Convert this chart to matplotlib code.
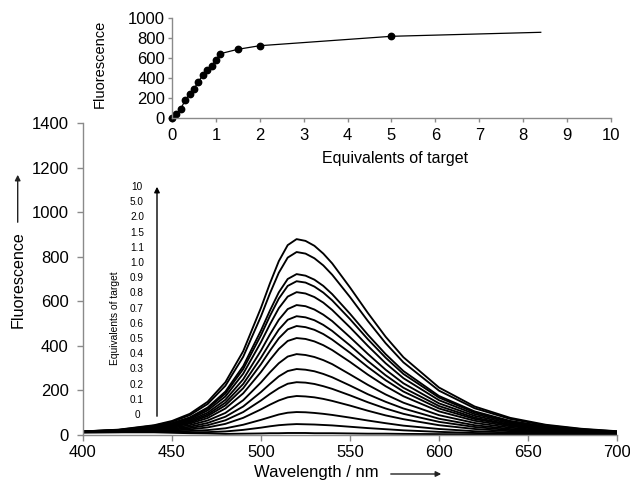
import matplotlib
matplotlib.use('Agg')
import matplotlib.pyplot as plt

# ---------------- data ----------------
wavelength = [400, 420, 440, 450, 460, 470, 480, 490, 500, 505, 510, 515, 520, 525,
              530, 535, 540, 550, 560, 570, 580, 600, 620, 640, 660, 680, 700]

spec_eq_0 = [12, 12, 12, 10, 8, 7, 5, 6, 7, 8, 8, 9, 9, 9, 8, 8, 8, 7, 6, 6, 5, 4, 3, 3, 3, 2, 2]
spec_eq_01 = [12, 13, 14, 13, 12, 13, 16, 23, 33, 39, 44, 47, 49, 48, 47, 45, 43, 37, 31, 26, 21, 14, 9, 6, 5, 4, 3]
spec_eq_02 = [12, 13, 16, 16, 18, 22, 30, 46, 68, 80, 92, 100, 103, 102, 99, 95, 90, 78, 65, 53, 42, 27, 17, 11, 7, 5, 4]
spec_eq_03 = [13, 14, 18, 20, 25, 34, 50, 77, 115, 136, 155, 169, 175, 173, 169, 162, 153, 132, 109, 88, 71, 44, 27, 17, 11, 7, 5]
spec_eq_04 = [13, 15, 21, 24, 31, 44, 66, 103, 155, 184, 210, 230, 237, 235, 229, 219, 207, 178, 147, 119, 95, 59, 36, 22, 14, 9, 6]
spec_eq_05 = [13, 16, 23, 28, 37, 54, 82, 128, 193, 229, 263, 287, 296, 293, 286, 274, 259, 222, 183, 149, 119, 73, 44, 27, 17, 11, 7]
spec_eq_06 = [14, 17, 25, 32, 44, 65, 99, 156, 236, 281, 322, 352, 363, 359, 350, 336, 318, 272, 225, 182, 145, 89, 54, 33, 20, 13, 8]
spec_eq_07 = [14, 18, 28, 36, 51, 76, 119, 187, 283, 337, 386, 422, 435, 431, 420, 403, 381, 328, 271, 219, 174, 106, 64, 39, 24, 15, 10]
spec_eq_08 = [14, 19, 30, 39, 56, 85, 133, 210, 318, 378, 434, 474, 489, 484, 472, 453, 428, 369, 305, 246, 195, 119, 72, 44, 27, 17, 11]
spec_eq_09 = [15, 19, 31, 42, 61, 92, 145, 229, 347, 412, 473, 517, 533, 528, 515, 494, 467, 402, 332, 268, 212, 130, 78, 47, 29, 18, 11]
spec_eq_10 = [15, 20, 33, 45, 66, 100, 158, 250, 379, 451, 517, 565, 583, 578, 563, 540, 511, 439, 364, 293, 232, 142, 86, 52, 31, 19, 12]
spec_eq_11 = [15, 21, 35, 48, 71, 110, 173, 275, 417, 496, 569, 621, 641, 635, 619, 594, 561, 483, 400, 322, 255, 156, 94, 57, 34, 21, 13]
spec_eq_15 = [15, 21, 37, 51, 76, 118, 186, 296, 448, 534, 612, 669, 690, 684, 666, 639, 604, 520, 430, 347, 274, 168, 101, 61, 37, 23, 14]
spec_eq_20 = [16, 22, 38, 53, 79, 123, 195, 309, 469, 558, 640, 700, 722, 715, 697, 669, 632, 544, 450, 363, 287, 175, 106, 63, 38, 23, 15]
spec_eq_50 = [16, 23, 42, 59, 89, 139, 221, 351, 533, 635, 728, 796, 821, 814, 793, 761, 719, 619, 512, 412, 326, 199, 120, 72, 43, 26, 16]
spec_eq_100 = [16, 24, 44, 63, 95, 149, 237, 376, 571, 680, 780, 852, 879, 871, 849, 814, 770, 662, 548, 441, 349, 213, 128, 77, 46, 28, 17]

spectra = [spec_eq_0, spec_eq_01, spec_eq_02, spec_eq_03, spec_eq_04, spec_eq_05,
           spec_eq_06, spec_eq_07, spec_eq_08, spec_eq_09, spec_eq_10, spec_eq_11,
           spec_eq_15, spec_eq_20, spec_eq_50, spec_eq_100]

eq_labels = ['0', '0.1', '0.2', '0.3', '0.4', '0.5', '0.6', '0.7', '0.8', '0.9',
             '1.0', '1.1', '1.5', '2.0', '5.0', '10']

main_xticks = [400, 450, 500, 550, 600, 650, 700]
main_yticks = [0, 200, 400, 600, 800, 1000, 1200, 1400]

# inset titration curve
titr_x = [0, 0.1, 0.2, 0.3, 0.4, 0.5, 0.6, 0.7, 0.8, 0.9, 1.0, 1.1, 1.5, 2, 5]
titr_y = [3, 40, 93, 177, 240, 293, 360, 430, 477, 523, 577, 643, 687, 723, 817]
line_x = [0, 0.1, 0.2, 0.3, 0.4, 0.5, 0.6, 0.7, 0.8, 0.9, 1.0, 1.1, 1.5, 2, 5, 8.4]
line_y = [3, 40, 93, 177, 240, 293, 360, 430, 477, 523, 577, 643, 687, 723, 817, 857]
inset_xticks = [0, 1, 2, 3, 4, 5, 6, 7, 8, 9, 10]
inset_yticks = [0, 200, 400, 600, 800, 1000]

# ---------------- figure ----------------
W, H = 630, 486
plt.rcParams['font.family'] = ['Liberation Sans', 'DejaVu Sans']
fig = plt.figure(figsize=(W / 100, H / 100), dpi=100)


def fp(x, y):
    return (x / W, 1 - y / H)


GREY = '#8a8a8a'

# main axes
ax = fig.add_axes([83 / W, 1 - 435 / H, (617 - 83) / W, (435 - 123) / H])
for spec in spectra:
    ax.plot(wavelength, spec, color='black', lw=1.35, solid_joinstyle='round')
ax.set_xlim(400, 700)
ax.set_ylim(0, 1400)
ax.set_xticks(main_xticks)
ax.set_yticks(main_yticks)
for s in ['top', 'right']:
    ax.spines[s].set_visible(False)
for s in ['left', 'bottom']:
    ax.spines[s].set_color(GREY)
    ax.spines[s].set_linewidth(1.0)
ax.tick_params(axis='both', direction='out', length=4.3, width=1.0, color=GREY,
               labelsize=12)
ax.tick_params(axis='y', pad=6)
ax.tick_params(axis='x', pad=3)

# main axis labels with arrows
fig.text(*fp(18.5, 280), 'Fluorescence', rotation=90, ha='center', va='center',
         fontsize=11.6)
fig.add_artist(matplotlib.patches.FancyArrowPatch(
    fp(17.7, 225), fp(17.7, 172), transform=fig.transFigure,
    arrowstyle='-|>', mutation_scale=8, color='#222222', lw=1.0))
fig.text(*fp(316, 472), 'Wavelength / nm', ha='center', va='center', fontsize=12)
fig.add_artist(matplotlib.patches.FancyArrowPatch(
    fp(388, 474), fp(444, 474), transform=fig.transFigure,
    arrowstyle='-|>', mutation_scale=8, color='#222222', lw=1.0))

# equivalents legend inside the main plot
fig.text(*fp(115, 318), 'Equivalents of target', rotation=90, ha='center',
         va='center', fontsize=7.4)
for i, lab in enumerate(eq_labels):
    fig.text(*fp(137, 415 - i * 15.2), lab, ha='center', va='center', fontsize=7.2)
fig.add_artist(matplotlib.patches.FancyArrowPatch(
    fp(157, 419), fp(157, 184), transform=fig.transFigure,
    arrowstyle='-|>', mutation_scale=8, color='black', lw=1.0))

# inset axes
ax2 = fig.add_axes([172 / W, 1 - 118 / H, (611 - 172) / W, 100 / H])
ax2.plot(line_x, line_y, color='black', lw=0.9)
ax2.plot(titr_x, titr_y, linestyle='none', marker='o', ms=4.6, color='black',
         clip_on=False)
ax2.set_xlim(0, 10)
ax2.set_ylim(0, 1000)
ax2.set_xticks(inset_xticks)
ax2.set_yticks(inset_yticks)
for s in ['top', 'right']:
    ax2.spines[s].set_visible(False)
for s in ['left', 'bottom']:
    ax2.spines[s].set_color(GREY)
    ax2.spines[s].set_linewidth(1.0)
ax2.tick_params(axis='both', direction='out', length=3, width=1.0, color=GREY,
                labelsize=12)
ax2.tick_params(axis='y', pad=2)
ax2.tick_params(axis='x', pad=4)
fig.text(*fp(100, 64), 'Fluorescence', rotation=90, ha='center', va='center',
         fontsize=10.5)
fig.text(*fp(395, 158), 'Equivalents of target', ha='center', va='center',
         fontsize=11.5)

fig.savefig('out.png', dpi=100)
